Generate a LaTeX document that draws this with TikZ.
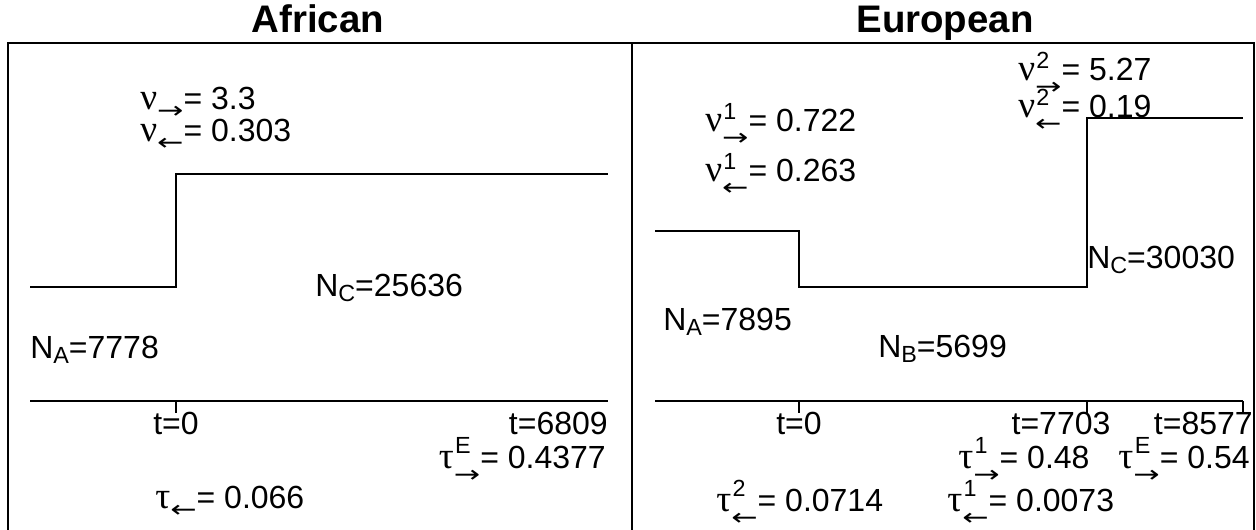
\documentclass[tikz,border=0pt]{standalone}
\usepackage{fontspec}
\usepackage{graphicx}
\setmainfont{Liberation Sans}
\newfontfamily\grk{Liberation Serif}
\newfontfamily\arw{DejaVu Sans}
% script size used for sub- and superscripts
\newcommand{\scr}{\fontsize{17.5}{19}\selectfont}
\newcommand{\ra}{{\arw\scalebox{1.35}[1]{→}}}
\newcommand{\la}{{\arw\scalebox{1.35}[1]{←}}}
% superscript stacked over a subscript
\newcommand{\sbsp}[3][9pt]{{\scr\makebox[0pt][l]{\hspace{1pt}\raisebox{#1}{#2}}\raisebox{-10.5pt}{#3}}}
% subscript alone
\newcommand{\sbonly}[1]{{\scr\raisebox{-7pt}{#1}}}
\newcommand{\lowsub}[1]{{\scr\raisebox{-4pt}{#1}}}
\newcommand{\gnu}{{\grk\fontsize{28}{30}\selectfont ν}}
\newcommand{\gtau}{{\grk\fontsize{28}{30}\selectfont τ}}
\begin{document}
\begin{tikzpicture}[x=0.75pt,y=-0.75pt,
  lbl/.style={inner sep=0pt,font=\fontsize{24}{28}\selectfont},
  ttl/.style={inner sep=0pt,font=\fontsize{28.8}{32}\selectfont\bfseries},
  frame/.style={line width=1.8pt},
  curve/.style={line width=1.8pt,line join=miter},
  axisline/.style={line width=1.6pt}]
\useasboundingbox (0,0) rectangle (1256,529);
\clip (0,0) rectangle (1256,529);

% panel frames
\draw[frame] (8,540) |- (1254,43) -- (1254,540);
\draw[frame] (632,43) -- (632,540);

% titles
\node[ttl,anchor=base] (tafr) at (318,32) {African};
\node[ttl,anchor=base] (teur) at (945,32) {European};

% ---------- African panel ----------
\draw[curve] (30,287) -- (176,287) -- (176,174) -- (608,174);
\draw[axisline] (30,401) -- (608,401);
\draw[axisline] (176,401) -- (176,413);

\node[lbl,anchor=base west] (anuf) at (140,109) {\gnu\sbonly{\ra}= 3.3};
\node[lbl,anchor=base west] (anub) at (140,141) {\gnu\sbonly{\la}= 0.303};
\node[lbl,anchor=base west] (anc) at (315,296) {N\lowsub{C}=25636};
\node[lbl,anchor=base west] (ana) at (30,358) {N\lowsub{A}=7778};
\node[lbl,anchor=base] (at0) at (176,434) {t=0};
\node[lbl,anchor=base east] (at1) at (608,434) {t=6809};
\node[lbl,anchor=base east] (ataue) at (606,468) {\gtau\sbsp[11pt]{E}{\ra}= 0.4377};
\node[lbl,anchor=base west] (ataub) at (155,508) {\gtau\sbonly{\la}= 0.066};

% ---------- European panel ----------
\draw[curve] (655,231) -- (799,231) -- (799,287) -- (1087,287) -- (1087,118) -- (1243,118);
\draw[axisline] (655,401) -- (1243,401);
\foreach \tx in {799,1087,1243} \draw[axisline] (\tx,401) -- (\tx,413);

\node[lbl,anchor=base west] (enuf1) at (705,131) {\gnu\sbsp{1}{\ra}= 0.722};
\node[lbl,anchor=base west] (enub1) at (705,181) {\gnu\sbsp{1}{\la}= 0.263};
\node[lbl,anchor=base west] (enuf2) at (1018,80) {\gnu\sbsp{2}{\ra}= 5.27};
\node[lbl,anchor=base west] (enub2) at (1018,117) {\gnu\sbsp{2}{\la}= 0.19};
\node[lbl,anchor=base west] (ena) at (663,330) {N\lowsub{A}=7895};
\node[lbl,anchor=base west] (enb) at (878,357) {N\lowsub{B}=5699};
\node[lbl,anchor=base west] (enc) at (1087,268) {N\lowsub{C}=30030};
\node[lbl,anchor=base] (et0) at (799,434) {t=0};
\node[lbl,anchor=base] (et1) at (1061,434) {t=7703};
\node[lbl,anchor=base east] (et2) at (1253,434) {t=8577};
\node[lbl,anchor=base west] (etauf1) at (958,468) {\gtau\sbsp[11pt]{1}{\ra}= 0.48};
\node[lbl,anchor=base east] (etaue) at (1250,468) {\gtau\sbsp[11pt]{E}{\ra}= 0.54};
\node[lbl,anchor=base west] (etaub2) at (716,511) {\gtau\sbsp[11pt]{2}{\la}= 0.0714};
\node[lbl,anchor=base west] (etaub1) at (947,511) {\gtau\sbsp[11pt]{1}{\la}= 0.0073};
\end{tikzpicture}
\end{document}
